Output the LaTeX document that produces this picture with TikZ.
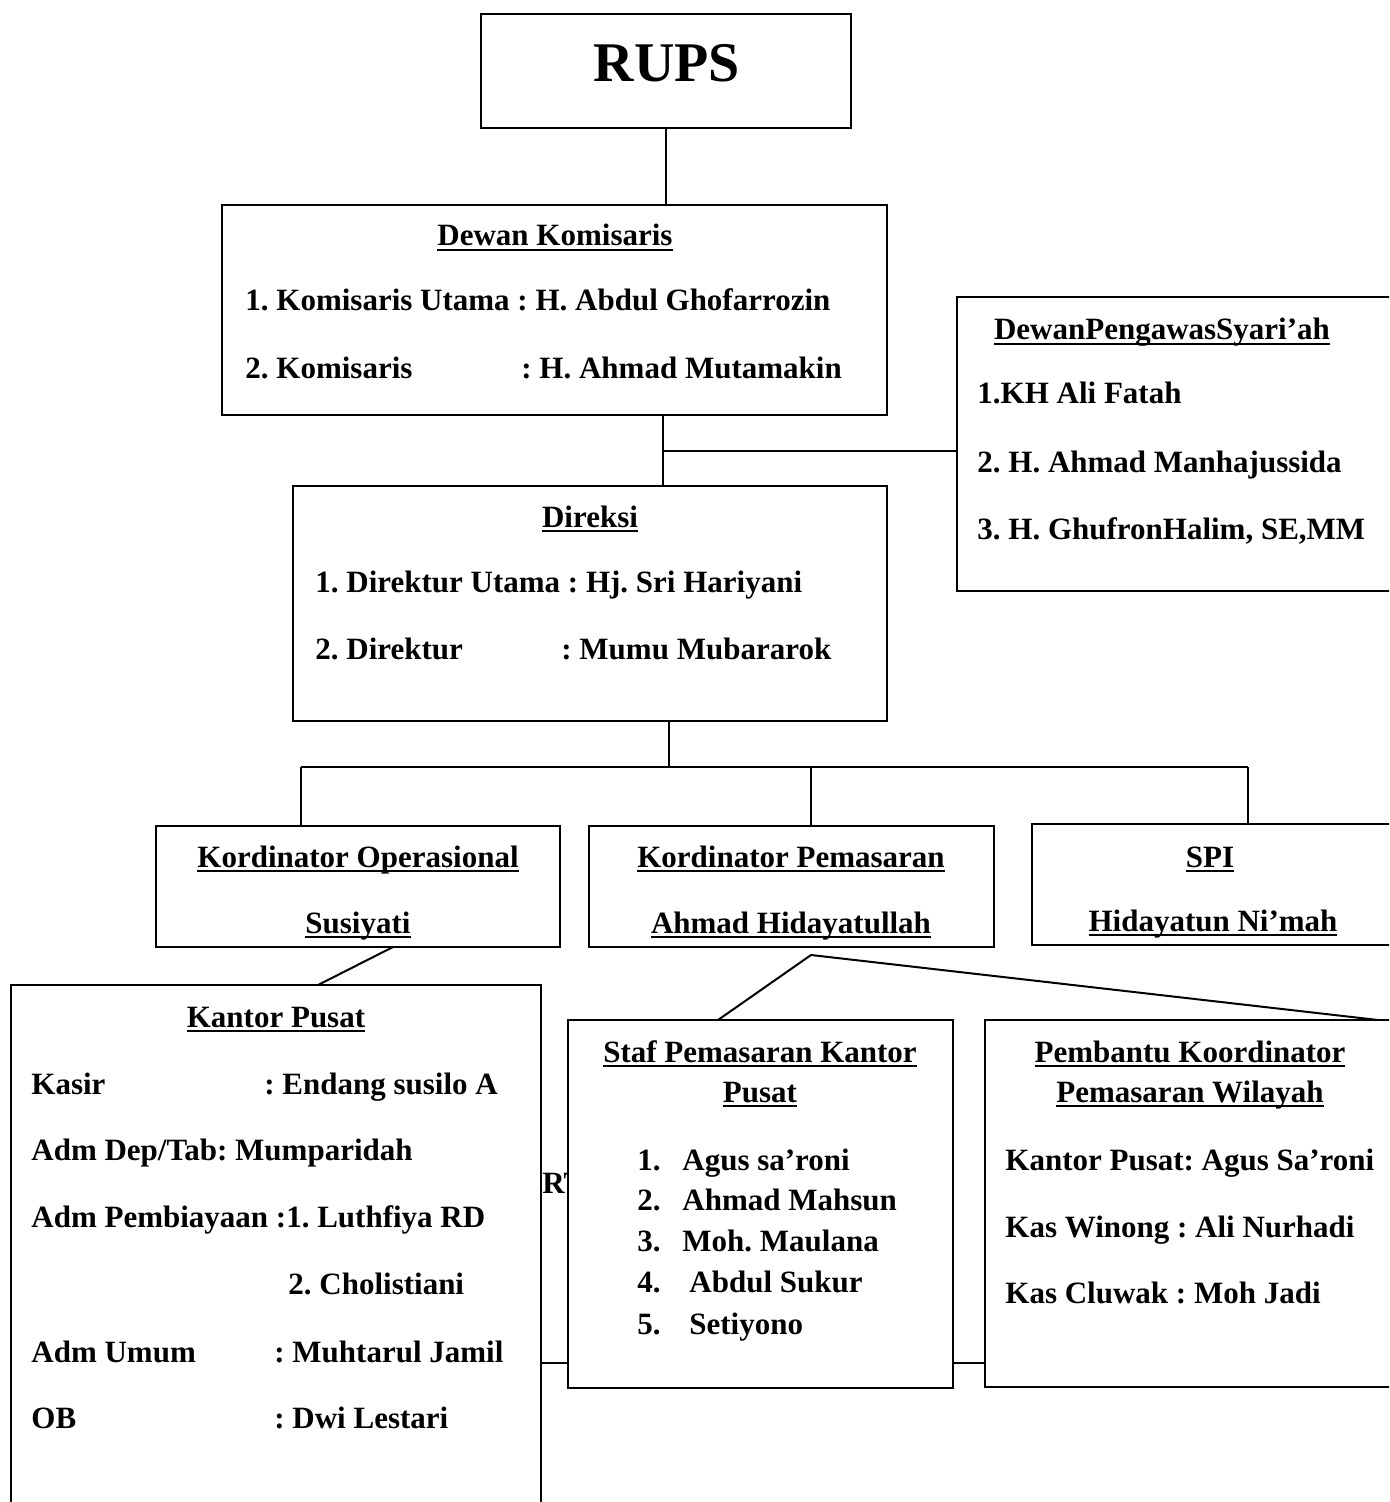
\documentclass[tikz,border=0pt]{standalone}
\usepackage{fontspec}
\setmainfont{Liberation Serif}
\usetikzlibrary{positioning,fit}
\frenchspacing
\newcommand{\ulin}[1]{\setbox0=\hbox{#1}\rlap{\rule[-2.6pt]{\wd0}{0.9pt}}\box0}
\tikzset{
  orgbox/.style={draw, line width=1pt, inner sep=0pt, fill=white},
  txt/.style={font=\fontsize{15.5}{18}\selectfont\bfseries, anchor=base west, inner sep=0pt},
  ttl/.style={font=\fontsize{15.5}{18}\selectfont\bfseries, anchor=base, inner sep=0pt},
  link/.style={line width=1pt},
}
\begin{document}
\begin{tikzpicture}[x=0.5pt, y=-0.5pt]
    \clip (0,0) rectangle (1389,1502);
    \fill[white] (0,0) rectangle (1389,1502);

    % boxes
    \node[orgbox, fit={(481,14) (851,128)}] (rups) {};
    \node[orgbox, fit={(222,205) (887,415)}] (komisaris) {};
    \node[orgbox, fit={(957,297) (1400,591)}] (pengawas) {};
    \node[orgbox, fit={(293,486) (887,721)}] (direksi) {};
    \node[orgbox, fit={(156,826) (560,947)}] (ops) {};
    \node[orgbox, fit={(589,826) (994,947)}] (pemasaran) {};
    \node[orgbox, fit={(1032,824) (1400,945)}] (spi) {};
    \node[orgbox, fit={(11,985) (541,1515)}] (kantor) {};
    \node[txt] (rt) at (542,1193) {RT};
    \node[orgbox, fit={(568,1020) (953,1388)}] (staf) {};
    \node[orgbox, fit={(985,1020) (1400,1387)}] (pembantu) {};

    % connectors
    \coordinate (kdj) at (663,451);
    \coordinate (dirbar) at (669,767);
    \coordinate (opsdrop) at (301,767);
    \coordinate (pemdrop) at (811,767);
    \coordinate (spidrop) at (1248,767);
    \coordinate (opsout) at (393,947);
    \coordinate (kpin) at (318,985);
    \coordinate (pemfork) at (811,955);
    \coordinate (stafin) at (718,1020);
    \coordinate (pbin) at (1378,1020);
    \draw[link] (rups.south) -- (rups.south |- komisaris.north);
    \draw[link] (kdj |- komisaris.south) -- (kdj |- direksi.north);
    \draw[link] (kdj) -- (kdj -| pengawas.west);
    \draw[link] (dirbar |- direksi.south) -- (dirbar);
    \draw[link] (opsdrop) -- (spidrop);
    \draw[link] (opsdrop) -- (opsdrop |- ops.north);
    \draw[link] (pemdrop) -- (pemdrop |- pemasaran.north);
    \draw[link] (spidrop) -- (spidrop |- spi.north);
    \draw[link] (opsout) -- (kpin);
    \draw[link] (stafin) -- (pemfork) -- (pbin);
    \draw[link] (kantor.east |- 0,1363) -- (staf.west |- 0,1363);
    \draw[link] (staf.east |- 0,1363) -- (pembantu.west |- 0,1363);

    % RUPS
    \node[font=\fontsize{28}{34}\selectfont\bfseries, anchor=base] at (667,82) {RUPS};

    % Dewan Komisaris
    \node[ttl] at (555,246) {\ulin{Dewan Komisaris}};
    \node[txt] at (245,311) {1. Komisaris Utama : H. Abdul Ghofarrozin};
    \node[txt] at (245,379) {2. Komisaris};
    \node[txt] at (521,379) {: H. Ahmad Mutamakin};

    % Dewan Pengawas Syariah
    \node[ttl] at (1162,340) {\ulin{DewanPengawasSyari’ah}};
    \node[txt] at (977,404) {1.KH Ali Fatah};
    \node[txt] at (977,472) {2. H. Ahmad Manhajussida};
    \node[txt] at (977,539) {3. H. GhufronHalim, SE,MM};

    % Direksi
    \node[ttl] at (590,527) {\ulin{Direksi}};
    \node[txt] at (315,592) {1. Direktur Utama : Hj. Sri Hariyani};
    \node[txt] at (315,659) {2. Direktur};
    \node[txt] at (561,659) {: Mumu Mubararok};

    % koordinator
    \node[ttl] at (358,867) {\ulin{Kordinator Operasional}};
    \node[ttl] at (358,933) {\ulin{Susiyati}};
    \node[ttl] at (791,867) {\ulin{Kordinator Pemasaran}};
    \node[ttl] at (791,933) {\ulin{Ahmad Hidayatullah}};
    \node[ttl] at (1210,867) {\ulin{SPI}};
    \node[ttl] at (1213,931) {\ulin{Hidayatun Ni’mah}};

    % Kantor Pusat
    \node[ttl] at (276,1027) {\ulin{Kantor Pusat}};
    \node[txt] at (31,1094) {Kasir};
    \node[txt] at (264,1094) {: Endang susilo A};
    \node[txt] at (31,1160) {Adm Dep/Tab: Mumparidah};
    \node[txt] at (31,1227) {Adm Pembiayaan :1. Luthfiya RD};
    \node[txt] at (288,1294) {2. Cholistiani};
    \node[txt] at (31,1362) {Adm Umum};
    \node[txt] at (274,1362) {: Muhtarul Jamil};
    \node[txt] at (31,1428) {OB};
    \node[txt] at (274,1428) {: Dwi Lestari};

    % Staf Pemasaran
    \node[ttl] at (760,1062) {\ulin{Staf Pemasaran Kantor}};
    \node[ttl] at (760,1102) {\ulin{Pusat}};
    \foreach \n/\xx/\yy/\who in {1/682/1170/Agus sa’roni, 2/682/1210/Ahmad Mahsun,
        3/682/1251/Moh. Maulana, 4/689/1292/Abdul Sukur, 5/689/1334/Setiyono} {
        \node[txt] at (637,\yy) {\n.};
        \node[txt] at (\xx,\yy) {\who};
    }

    % Pembantu Koordinator
    \node[ttl] at (1190,1062) {\ulin{Pembantu Koordinator}};
    \node[ttl] at (1190,1102) {\ulin{Pemasaran Wilayah}};
    \node[txt] at (1005,1170) {Kantor Pusat: Agus Sa’roni};
    \node[txt] at (1005,1237) {Kas Winong : Ali Nurhadi};
    \node[txt] at (1005,1303) {Kas Cluwak : Moh Jadi};
\end{tikzpicture}
\end{document}
